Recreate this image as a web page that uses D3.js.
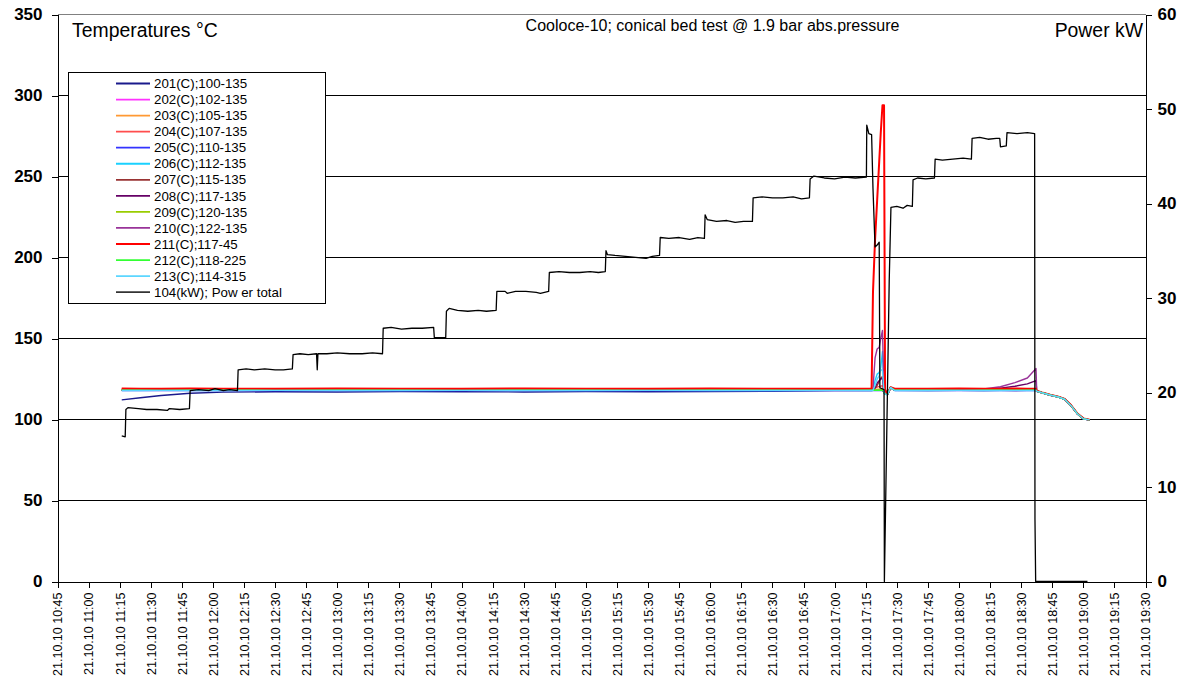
<!DOCTYPE html>
<html>
<head>
<meta charset="utf-8">
<script src="https://cdn.jsdelivr.net/npm/d3@7"></script>
<style>
  html, body { margin: 0; padding: 0; background: #fff; }
  svg { display: block; font-family: "Liberation Sans", Arial, sans-serif; }
</style>
</head>
<body>
<svg id="chart" width="1188" height="686"></svg>
<script>
// ---- data -------------------------------------------------------------
const chartTitle = "Cooloce-10; conical bed test @ 1.9 bar abs.pressure";
const leftTitle = "Temperatures °C";
const rightTitle = "Power kW";
const datePrefix = "21.10.10 ";

const tempTicks = [0, 50, 100, 150, 200, 250, 300, 350];
const powerTicks = [0, 10, 20, 30, 40, 50, 60];

const seriesNames = [
  "201(C);100-135", "202(C);102-135", "203(C);105-135", "204(C);107-135",
  "205(C);110-135", "206(C);112-135", "207(C);115-135", "208(C);117-135",
  "209(C);120-135", "210(C);122-135", "211(C);117-45", "212(C);118-225",
  "213(C);114-315"
];
const powerName = "104(kW); Pow er total";

const seriesColors = [
  "#1a1a8c", "#ff33ff", "#ff9933", "#ff4d4d", "#3333ff", "#1ad1ff",
  "#993333", "#660066", "#99cc00", "#993399", "#ff0000", "#33ff33", "#5cd6ff"
];
const powerColor = "#000000";

// sample times of the temperature loggers
const tempTimes = [
  "11:16:00", "11:25:00", "11:35:00", "11:49:00", "12:05:00", "12:30:00", "13:00:00",
  "13:30:00", "14:00:00", "14:30:00", "15:00:00", "15:30:00", "16:00:00", "16:30:00",
  "17:00:00", "17:17:50", "17:18:30", "17:19:30", "17:20:30", "17:21:30", "17:22:15",
  "17:23:05", "17:23:50", "17:24:20", "17:25:30", "17:27:00", "17:29:00", "17:45:00",
  "18:00:00", "18:12:00", "18:20:00", "18:27:00", "18:33:00", "18:37:10", "18:37:30",
  "18:40:00", "18:44:00", "18:48:00", "18:51:00", "18:54:00", "18:57:00", "19:00:00",
  "19:03:00"
];

const t201 = [112.1,113.4,114.8,116.2,116.9,117.1,117.0,117.2,117.1,117.0,117.2,117.1,117.2,117.4,117.8,
  117.9,118.0,118.0,118.1,118.0,118.0,118.1,116.9,115.7,115.4,119.6,118.0,
  117.9,118.0,117.9,118.0,117.9,118.0,118.0,
  117.4,116.4,115.0,113.8,112.4,108.6,103.6,100.4,99.7];
const t202 = [118.3,118.2,118.3,118.2,118.2,118.3,118.2,118.2,118.3,118.2,118.2,118.3,118.2,118.2,118.3,
  118.2,118.3,118.3,118.2,118.3,118.2,118.3,117.0,115.8,115.5,119.7,118.3,
  118.2,118.3,118.2,118.3,118.2,118.3,118.2,
  117.6,116.6,115.2,114.0,112.6,108.8,103.8,100.6,99.8];
const t203 = [118.5,118.4,118.4,118.5,118.4,118.4,118.5,118.4,118.4,118.5,118.4,118.4,118.5,118.4,118.4,
  118.5,118.4,118.6,118.7,118.8,118.9,118.9,117.1,115.9,115.6,119.8,118.4,
  118.4,118.5,118.4,118.4,118.5,118.4,118.4,
  117.5,116.5,115.1,113.9,112.5,108.7,103.7,100.5,99.8];
const t204 = [119.0,118.9,118.9,119.0,118.9,118.9,119.0,118.9,118.9,119.0,118.9,118.9,119.0,118.9,118.9,
  119.0,119.2,119.6,120.0,120.4,120.6,120.8,117.4,116.0,115.7,119.9,118.9,
  118.9,119.0,118.9,118.9,119.0,118.9,118.9,
  117.7,116.7,115.3,114.1,112.7,108.9,103.9,100.7,99.9];
const t205 = [117.8,117.9,117.8,117.8,117.9,117.8,117.8,117.9,117.8,117.8,117.9,117.8,117.8,117.9,117.8,
  117.8,117.9,117.8,117.8,117.9,117.8,117.8,116.9,115.7,115.4,119.6,117.9,
  117.8,117.8,117.9,117.8,117.8,117.9,117.8,
  117.4,116.4,115.0,113.8,112.4,108.6,103.6,100.4,99.7];
const t206 = [118.0,118.1,118.0,118.0,118.1,118.0,118.0,118.1,118.0,118.0,118.1,118.0,118.0,118.1,118.0,
  118.0,118.5,124.0,128.0,129.0,132.0,142.0,116.2,115.6,115.4,119.8,118.1,
  118.0,118.0,118.1,118.0,118.0,118.1,118.0,
  117.5,116.5,115.1,113.9,112.5,108.7,103.7,100.5,99.8];
const t207 = [118.3,118.4,118.3,118.3,118.4,118.3,118.3,118.4,118.3,118.3,118.4,118.3,118.3,118.4,118.3,
  118.3,118.4,119.2,121.0,123.5,125.5,126.5,117.0,115.8,115.5,119.7,118.3,
  118.3,118.4,118.3,118.3,118.4,118.3,118.3,
  117.6,116.6,115.2,114.0,112.6,108.8,103.8,100.6,99.8];
const t208 = [118.1,118.1,118.2,118.1,118.1,118.2,118.1,118.1,118.2,118.1,118.1,118.2,118.1,118.1,118.2,
  118.1,118.3,120.0,122.5,124.0,125.0,125.5,117.0,115.8,115.5,119.7,118.1,
  118.1,118.2,118.6,119.4,120.5,122.0,124.0,
  117.5,116.5,115.1,113.9,112.5,108.7,103.7,100.5,99.8];
const t209 = [118.2,118.2,118.3,118.2,118.2,118.3,118.2,118.2,118.3,118.2,118.2,118.3,118.2,118.2,118.3,
  118.2,118.2,118.3,118.2,118.2,118.3,118.2,117.0,115.8,115.5,119.7,118.2,
  118.2,118.3,118.2,118.2,118.3,118.2,118.2,
  117.5,116.5,115.1,113.9,112.5,108.7,103.7,100.5,99.8];
const t210 = [118.0,118.0,118.1,118.0,118.0,118.1,118.0,118.0,118.1,118.0,118.0,118.1,118.0,118.0,118.1,
  118.0,119.0,138.0,143.5,144.5,150.0,155.0,117.0,115.8,115.5,119.7,118.0,
  118.1,118.3,118.8,120.2,122.8,125.6,131.5,
  117.5,116.5,115.1,113.9,112.5,108.7,103.7,100.5,99.8];
const t211 = [119.1,119.0,119.0,119.1,119.0,119.0,119.1,119.0,119.0,119.1,119.0,119.0,119.1,119.0,119.0,
  119.2,178.5,211.0,235.0,259.0,277.0,294.0,294.0,118.5,115.8,119.9,119.0,
  119.0,119.1,119.0,119.0,119.1,119.0,119.0,
  117.7,116.7,115.3,114.1,112.7,108.9,103.9,100.7,99.9];
const t212 = [118.1,118.1,118.0,118.1,118.1,118.0,118.1,118.1,118.0,118.1,118.1,118.0,118.1,118.1,118.0,
  118.1,118.1,118.0,118.1,118.1,118.0,118.1,116.9,115.7,115.4,119.7,118.1,
  118.1,118.0,118.1,118.1,118.0,118.1,118.1,
  117.5,116.5,115.1,113.9,112.5,108.7,103.7,100.5,99.8];
const t213 = [117.9,117.9,118.0,117.9,117.9,118.0,117.9,117.9,118.0,117.9,117.9,118.0,117.9,117.9,118.0,
  117.9,118.0,121.0,125.0,127.0,131.0,130.0,116.5,115.7,115.4,119.8,117.9,
  117.9,118.0,117.9,117.9,118.0,117.9,117.9,
  117.5,116.5,115.1,113.9,112.5,108.7,103.7,100.5,99.8];

const tempValues = [t201, t202, t203, t204, t205, t206, t207, t208, t209, t210, t211, t212, t213];

// total heating power, kW
const powerTimes = [
  "11:16:00", "11:17:40", "11:18:00", "11:19:00", "11:24:00", "11:28:00", "11:33:00", "11:38:00",
  "11:39:00", "11:44:00", "11:48:40", "11:49:00", "11:53:00", "11:58:00", "12:01:00", "12:05:00",
  "12:08:00", "12:11:50", "12:12:10", "12:16:00", "12:20:00", "12:25:00", "12:30:00", "12:34:00",
  "12:38:20", "12:38:40", "12:42:00", "12:46:00", "12:50:00", "12:50:20", "12:50:40", "12:55:00",
  "13:00:00", "13:06:00", "13:12:00", "13:17:00", "13:21:50", "13:22:10", "13:26:00", "13:31:00",
  "13:36:00", "13:41:00", "13:46:30", "13:46:50", "13:52:20", "13:52:40", "13:54:00", "13:58:00",
  "14:03:00", "14:08:00", "14:12:00", "14:16:40", "14:17:00", "14:21:00", "14:22:00", "14:26:00",
  "14:31:00", "14:36:00", "14:38:00", "14:42:00", "14:42:20", "14:47:00", "14:52:00", "14:57:00",
  "15:02:00", "15:06:00", "15:09:20", "15:09:40", "15:10:20", "15:14:00", "15:19:00", "15:24:00",
  "15:29:00", "15:32:00", "15:35:30", "15:35:50", "15:40:00", "15:45:00", "15:50:00", "15:54:00",
  "15:57:10", "15:57:30", "15:58:30", "16:03:00", "16:08:00", "16:12:00", "16:16:00", "16:20:20",
  "16:20:40", "16:25:00", "16:30:00", "16:35:00", "16:40:00", "16:44:00", "16:47:50", "16:48:10",
  "16:50:00", "16:55:00", "17:00:00", "17:05:00", "17:10:00", "17:15:20", "17:15:30", "17:16:30",
  "17:17:50", "17:18:30", "17:19:30", "17:20:30", "17:21:30", "17:21:50", "17:23:50", "17:24:00",
  "17:26:20", "17:27:10", "17:30:00", "17:33:00", "17:35:00", "17:37:30", "17:37:50", "17:40:00",
  "17:44:00", "17:48:10", "17:48:30", "17:52:00", "17:57:00", "18:02:00", "18:06:00", "18:06:20",
  "18:10:00", "18:14:00", "18:18:00", "18:19:40", "18:20:00", "18:22:50", "18:23:10", "18:28:00",
  "18:33:00", "18:36:30", "18:36:40", "18:37:00", "19:02:00"
];
const powerKW = [
  15.4, 15.3, 18.2, 18.4, 18.3, 18.2, 18.2, 18.1,
  18.3, 18.2, 18.3, 20.2, 20.3, 20.2, 20.4, 20.2,
  20.3, 20.2, 22.4, 22.5, 22.4, 22.5, 22.4, 22.4,
  22.5, 24.0, 24.1, 24.0, 24.1, 22.4, 24.1, 24.1,
  24.2, 24.1, 24.1, 24.2, 24.1, 26.8, 26.9, 26.7,
  26.8, 26.8, 26.9, 25.8, 25.8, 28.6, 28.9, 28.7,
  28.6, 28.7, 28.6, 28.7, 30.7, 30.7, 30.5, 30.7,
  30.7, 30.6, 30.5, 30.7, 32.7, 32.8, 32.7, 32.7,
  32.8, 32.7, 32.8, 35.0, 34.6, 34.5, 34.4, 34.3,
  34.2, 34.4, 34.5, 36.4, 36.3, 36.4, 36.2, 36.4,
  36.3, 38.8, 38.3, 38.1, 38.2, 38.0, 38.1, 38.1,
  40.6, 40.7, 40.6, 40.6, 40.7, 40.5, 40.6, 42.6,
  42.9, 42.7, 42.6, 42.8, 42.7, 42.8, 48.3, 47.4,
  47.3, 41.6, 35.4, 35.6, 35.9, 20.5, 20.3, 0.0,
  31.8, 39.6, 39.7, 39.5, 39.8, 39.7, 42.5, 42.7,
  42.6, 42.7, 44.7, 44.6, 44.7, 44.8, 44.7, 46.9,
  47.0, 46.8, 46.9, 46.9, 46.0, 46.1, 47.5, 47.4,
  47.5, 47.4, 6.6, 0.0, 0.0
];

// ---- layout & scales ---------------------------------------------------
const svg = d3.select("#chart");
const W = 1188, H = 686;
const plot = { left: 57.5, right: 1145.5, top: 14.5, bottom: 581.5 };

svg.append("rect").attr("width", W).attr("height", H).attr("fill", "#fff");

const parseT = d3.timeParse("%H:%M:%S");
const x = d3.scaleTime()
  .domain([parseT("10:45:00"), parseT("19:30:00")])
  .range([plot.left, plot.right]);
const yT = d3.scaleLinear().domain([0, 350]).range([plot.bottom, plot.top]);
const yP = d3.scaleLinear().domain([0, 60]).range([plot.bottom, plot.top]);

// ---- grid --------------------------------------------------------------
svg.append("g")
  .selectAll("line")
  .data(tempTicks.filter(v => v > 0 && v < 350))
  .join("line")
  .attr("x1", plot.left).attr("x2", plot.right)
  .attr("y1", d => yT(d)).attr("y2", d => yT(d))
  .attr("stroke", "#000").attr("stroke-width", 1)
  .attr("shape-rendering", "crispEdges");

svg.append("line")
  .attr("x1", plot.left).attr("x2", plot.right)
  .attr("y1", yT(350)).attr("y2", yT(350))
  .attr("stroke", "#808080").attr("shape-rendering", "crispEdges");

// ---- axes --------------------------------------------------------------
const axisLeft = d3.axisLeft(yT).tickValues(tempTicks).tickSize(6).tickPadding(9);
const gL = svg.append("g").attr("transform", `translate(${plot.left},0)`).call(axisLeft);
gL.selectAll("text").attr("font-size", 17).attr("font-weight", "bold")
  .attr("font-family", "'Liberation Sans', Arial, sans-serif").attr("fill", "#000");

const axisRight = d3.axisRight(yP).tickValues(powerTicks).tickSize(6).tickPadding(6);
const gR = svg.append("g").attr("transform", `translate(${plot.right},0)`).call(axisRight);
gR.selectAll("text").attr("font-size", 17).attr("font-weight", "bold")
  .attr("font-family", "'Liberation Sans', Arial, sans-serif").attr("fill", "#000");

const xTickValues = d3.timeMinute.every(15).range(parseT("10:45:00"), parseT("19:30:01"));
const fmt = d3.timeFormat("%H:%M");
const axisBottom = d3.axisBottom(x).tickValues(xTickValues).tickSize(6)
  .tickFormat(d => datePrefix + fmt(d));
const gB = svg.append("g").attr("transform", `translate(0,${plot.bottom})`).call(axisBottom);
gB.selectAll("text")
  .attr("font-size", 12.5)
  .attr("font-family", "'Liberation Sans', Arial, sans-serif")
  .attr("fill", "#000")
  .attr("text-anchor", "end")
  .attr("transform", "rotate(-90)")
  .attr("x", -11).attr("y", 0).attr("dy", "0.35em");

[gL, gR, gB].forEach(g => {
  g.select(".domain").attr("stroke", "#000").attr("shape-rendering", "crispEdges");
  g.selectAll(".tick line").attr("stroke", "#000").attr("shape-rendering", "crispEdges");
});

// ---- series ------------------------------------------------------------
const times = tempTimes.map(parseT);
const lineT = d3.line().x(d => x(d[0])).y(d => yT(d[1]));
const lineP = d3.line().x(d => x(d[0])).y(d => yP(d[1]));

const gSeries = svg.append("g");
tempValues.forEach((vals, i) => {
  gSeries.append("path")
    .datum(vals.map((v, k) => [times[k], v]))
    .attr("d", lineT)
    .attr("fill", "none")
    .attr("stroke", seriesColors[i])
    .attr("stroke-width", i === 10 ? 2 : 1.4)
    .attr("stroke-linejoin", "round");
});

gSeries.append("path")
  .datum(powerKW.map((v, k) => [parseT(powerTimes[k]), v]))
  .attr("d", lineP)
  .attr("fill", "none")
  .attr("stroke", powerColor)
  .attr("stroke-width", 1.3)
  .attr("stroke-linejoin", "round");

// ---- titles ------------------------------------------------------------
svg.append("text").text(leftTitle)
  .attr("x", 72).attr("y", 37).attr("font-size", 19.4).attr("fill", "#000");
svg.append("text").text(rightTitle)
  .attr("x", 1143).attr("y", 37).attr("text-anchor", "end").attr("font-size", 19.4).attr("fill", "#000");
svg.append("text").text(chartTitle)
  .attr("x", 712.5).attr("y", 31).attr("text-anchor", "middle").attr("font-size", 16).attr("fill", "#000");

// ---- legend ------------------------------------------------------------
const legend = svg.append("g");
legend.append("rect")
  .attr("x", 68.5).attr("y", 72.5).attr("width", 257).attr("height", 231)
  .attr("fill", "#fff").attr("stroke", "#000").attr("shape-rendering", "crispEdges");

const legendItems = seriesNames.map((n, i) => ({ name: n, color: seriesColors[i] }))
  .concat([{ name: powerName, color: "#333" }]);

const li = legend.selectAll("g.item").data(legendItems).join("g")
  .attr("class", "item")
  .attr("transform", (d, i) => `translate(0,${83.5 + i * 16.05})`);
li.append("line")
  .attr("x1", 116).attr("x2", 150).attr("y1", 0).attr("y2", 0)
  .attr("stroke", d => d.color).attr("stroke-width", 1.8);
li.append("text").text(d => d.name)
  .attr("x", 154).attr("y", 0).attr("dy", "0.35em")
  .attr("font-size", 13.3).attr("fill", "#000");
</script>
</body>
</html>
